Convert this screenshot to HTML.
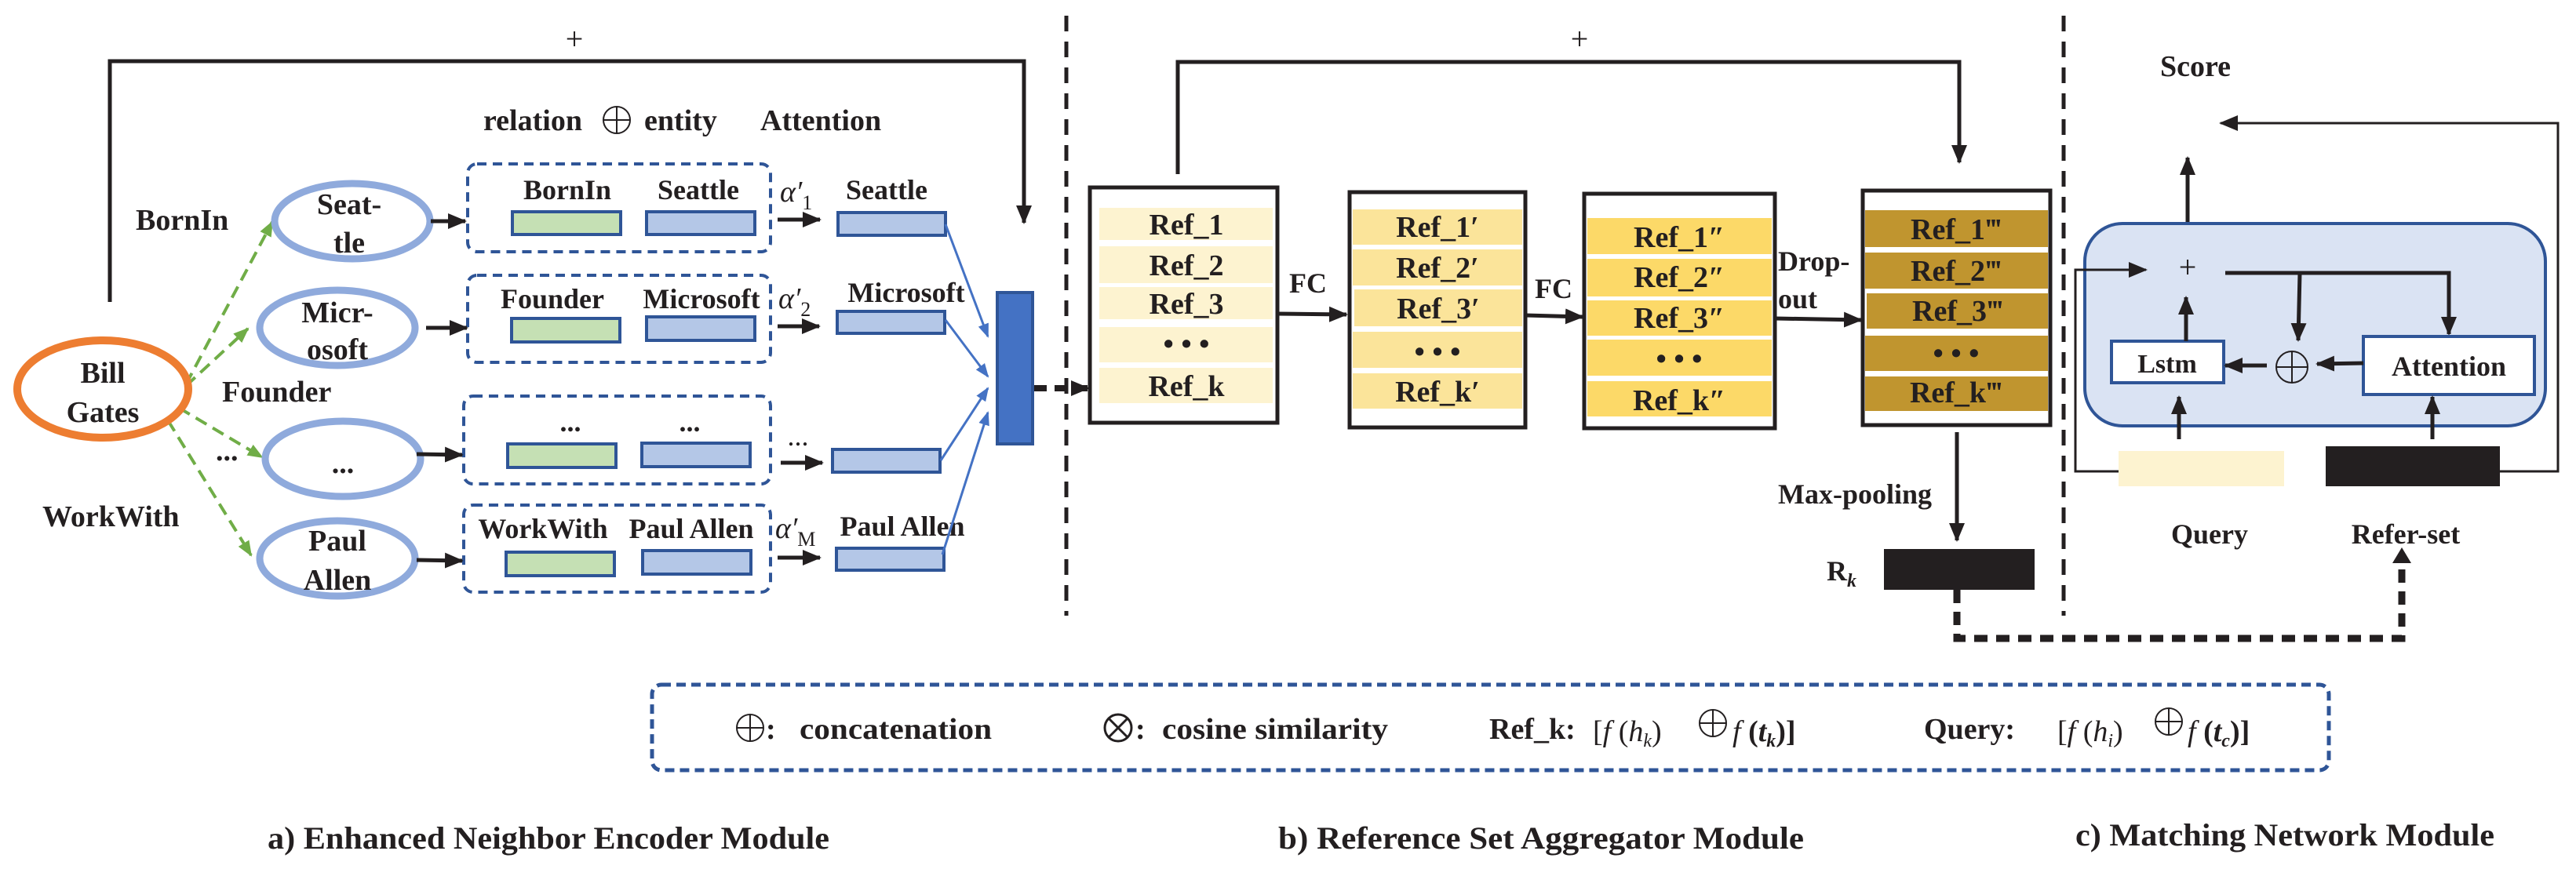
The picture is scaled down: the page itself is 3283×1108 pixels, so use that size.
<!DOCTYPE html>
<html><head><meta charset="utf-8"><style>
html,body{margin:0;padding:0;background:#fff;}
svg{display:block;}
text{font-family:"Liberation Serif",serif;font-weight:bold;fill:#231f20;}
</style></head><body>
<svg width="3283" height="1108" viewBox="0 0 3283 1108" xmlns="http://www.w3.org/2000/svg">
<defs>
<marker id="ab" markerUnits="userSpaceOnUse" markerWidth="24" markerHeight="24" refX="22" refY="12" orient="auto"><path d="M0,2 L24,12 L0,22 z" fill="#231f20"/></marker>
<marker id="ag" markerUnits="userSpaceOnUse" markerWidth="20" markerHeight="20" refX="18" refY="10" orient="auto"><path d="M0,2 L20,10 L0,18 z" fill="#70ad47"/></marker>
<marker id="al" markerUnits="userSpaceOnUse" markerWidth="18" markerHeight="18" refX="16" refY="9" orient="auto"><path d="M0,2 L18,9 L0,16 z" fill="#4472c4"/></marker>
</defs>

<!-- separators -->
<line x1="1359" y1="20" x2="1359" y2="785" stroke="#231f20" stroke-width="5" stroke-dasharray="20 13"/>
<line x1="2630" y1="20" x2="2630" y2="785" stroke="#231f20" stroke-width="5" stroke-dasharray="20 13"/>

<!-- ===== Module a ===== -->
<polyline points="140,385 140,78 1305,78 1305,284" fill="none" stroke="#231f20" stroke-width="5" marker-end="url(#ab)"/>
<text x="732" y="63" font-size="40" text-anchor="middle" style="font-weight:normal">+</text>
<text x="616" y="166" font-size="38">relation</text>
<circle cx="786" cy="153" r="17" fill="none" stroke="#231f20" stroke-width="2"/>
<line x1="769" y1="153" x2="803" y2="153" stroke="#231f20" stroke-width="2"/><line x1="786" y1="136" x2="786" y2="170" stroke="#231f20" stroke-width="2"/>
<text x="821" y="166" font-size="38">entity</text>
<text x="969" y="166" font-size="38">Attention</text>

<!-- green arrows -->
<g stroke="#70ad47" stroke-width="4" stroke-dasharray="16 9" fill="none">
<line x1="237" y1="490" x2="347" y2="283" marker-end="url(#ag)"/>
<line x1="237" y1="492" x2="316" y2="419" marker-end="url(#ag)"/>
<line x1="228" y1="520" x2="334" y2="583" marker-end="url(#ag)"/>
<line x1="214" y1="536" x2="320" y2="708" marker-end="url(#ag)"/>
</g>

<ellipse cx="131" cy="496" rx="109" ry="62" fill="#fff" stroke="#ed7d31" stroke-width="10"/>
<text x="131" y="488" font-size="38" text-anchor="middle">Bill</text>
<text x="131" y="538" font-size="38" text-anchor="middle">Gates</text>

<g fill="#fff" stroke="#8faadc" stroke-width="9">
<ellipse cx="449" cy="282" rx="99" ry="48"/>
<ellipse cx="430" cy="418" rx="99" ry="48"/>
<ellipse cx="437" cy="585" rx="99" ry="48"/>
<ellipse cx="430" cy="712" rx="99" ry="48"/>
</g>
<g font-size="38" text-anchor="middle">
<text x="445" y="273">Seat-</text><text x="445" y="322">tle</text>
<text x="430" y="411">Micr-</text><text x="430" y="458">osoft</text>
<text x="437" y="603">...</text>
<text x="430" y="702">Paul</text><text x="430" y="752">Allen</text>
</g>
<g font-size="38">
<text x="173" y="293">BornIn</text>
<text x="283" y="512">Founder</text>
<text x="275" y="587">...</text>
<text x="54" y="671">WorkWith</text>
</g>

<!-- dashed boxes -->
<g fill="none" stroke="#2f5597" stroke-width="4" stroke-dasharray="12 8">
<rect x="596" y="209" width="386" height="112" rx="12"/>
<rect x="596" y="351" width="386" height="111" rx="12"/>
<rect x="591" y="505" width="391" height="112" rx="12"/>
<rect x="591" y="644" width="391" height="111" rx="12"/>
</g>
<g stroke="#2f5597" stroke-width="4">
<rect x="653" y="270" width="138" height="29" fill="#c5e0b4"/><rect x="824" y="270" width="138" height="29" fill="#b4c7e7"/>
<rect x="652" y="406" width="138" height="30" fill="#c5e0b4"/><rect x="824" y="404" width="138" height="30" fill="#b4c7e7"/>
<rect x="647" y="566" width="138" height="30" fill="#c5e0b4"/><rect x="818" y="565" width="138" height="30" fill="#b4c7e7"/>
<rect x="645" y="704" width="138" height="30" fill="#c5e0b4"/><rect x="819" y="702" width="138" height="30" fill="#b4c7e7"/>
<rect x="1068" y="271" width="137" height="29" fill="#b4c7e7"/>
<rect x="1067" y="397" width="137" height="28" fill="#b4c7e7"/>
<rect x="1061" y="573" width="137" height="29" fill="#b4c7e7"/>
<rect x="1066" y="699" width="137" height="28" fill="#b4c7e7"/>
</g>
<g font-size="36" text-anchor="middle">
<text x="723" y="254">BornIn</text><text x="890" y="254">Seattle</text>
<text x="704" y="393">Founder</text><text x="894" y="393">Microsoft</text>
<text x="727" y="550">...</text><text x="879" y="550">...</text>
<text x="692" y="686">WorkWith</text><text x="881" y="686">Paul Allen</text>
<text x="1130" y="254">Seattle</text>
<text x="1155" y="385">Microsoft</text>
<text x="1150" y="683">Paul Allen</text>
<text x="1017" y="568" style="font-weight:normal">...</text>
</g>
<g font-size="38" font-style="italic">
<text x="994" y="257" style="font-weight:normal">α′<tspan font-size="26" font-style="normal" dy="10">1</tspan></text>
<text x="992" y="393" style="font-weight:normal">α′<tspan font-size="26" font-style="normal" dy="10">2</tspan></text>
<text x="988" y="686" style="font-weight:normal">α′<tspan font-size="26" font-style="normal" dy="10">M</tspan></text>
</g>
<g stroke="#231f20" stroke-width="5">
<line x1="549" y1="282" x2="593" y2="282" marker-end="url(#ab)"/>
<line x1="543" y1="418" x2="595" y2="418" marker-end="url(#ab)"/>
<line x1="531" y1="579" x2="589" y2="580" marker-end="url(#ab)"/>
<line x1="531" y1="714" x2="589" y2="715" marker-end="url(#ab)"/>
<line x1="991" y1="280" x2="1045" y2="280" marker-end="url(#ab)"/>
<line x1="991" y1="416" x2="1044" y2="416" marker-end="url(#ab)"/>
<line x1="995" y1="590" x2="1048" y2="590" marker-end="url(#ab)"/>
<line x1="991" y1="711" x2="1045" y2="711" marker-end="url(#ab)"/>
</g>
<g stroke="#4472c4" stroke-width="3">
<line x1="1205" y1="286" x2="1259" y2="429" marker-end="url(#al)"/>
<line x1="1205" y1="408" x2="1259" y2="480" marker-end="url(#al)"/>
<line x1="1199" y1="587" x2="1259" y2="495" marker-end="url(#al)"/>
<line x1="1201" y1="707" x2="1259" y2="526" marker-end="url(#al)"/>
</g>
<rect x="1271" y="373" width="45" height="193" fill="#4472c4" stroke="#2f5597" stroke-width="4"/>
<line x1="1318" y1="495" x2="1387" y2="495" stroke="#231f20" stroke-width="8" stroke-dasharray="16 10" marker-end="url(#ab)"/>

<!-- ===== Module b ===== -->
<polyline points="1501,222 1501,79 2497,79 2497,207" fill="none" stroke="#231f20" stroke-width="5" marker-end="url(#ab)"/>
<text x="2013" y="63" font-size="40" text-anchor="middle" style="font-weight:normal">+</text>

<g stroke="#231f20" stroke-width="5" fill="#fff">
<rect x="1389" y="239" width="239" height="300"/>
<rect x="1720" y="245" width="224" height="300"/>
<rect x="2019" y="247" width="243" height="299"/>
<rect x="2374" y="243" width="239" height="299"/>
</g>
<g fill="#fdf3d0">
<rect x="1401" y="265" width="221" height="41"/><rect x="1401" y="314" width="221" height="47"/><rect x="1401" y="366" width="221" height="41"/><rect x="1401" y="417" width="221" height="45"/><rect x="1401" y="469" width="221" height="45"/>
</g>
<g fill="#fbe49a">
<rect x="1724" y="267" width="216" height="45"/><rect x="1724" y="318" width="216" height="46"/><rect x="1726" y="369" width="214" height="47"/><rect x="1724" y="423" width="216" height="46"/><rect x="1724" y="476" width="216" height="45"/>
</g>
<g fill="#fcd968">
<rect x="2023" y="278" width="235" height="46"/><rect x="2023" y="330" width="235" height="48"/><rect x="2023" y="383" width="235" height="45"/><rect x="2023" y="433" width="235" height="46"/><rect x="2023" y="486" width="235" height="45"/>
</g>
<g fill="#c0952f">
<rect x="2377" y="268" width="233" height="47"/><rect x="2377" y="322" width="233" height="46"/><rect x="2379" y="374" width="231" height="45"/><rect x="2377" y="428" width="233" height="45"/><rect x="2377" y="480" width="233" height="44"/>
</g>
<g font-size="38" text-anchor="middle">
<text x="1512" y="299">Ref_1</text><text x="1512" y="351">Ref_2</text><text x="1512" y="400">Ref_3</text><text x="1512" y="451">• • •</text><text x="1512" y="505">Ref_k</text>
<text x="1832" y="302">Ref_1′</text><text x="1832" y="354">Ref_2′</text><text x="1833" y="406">Ref_3′</text><text x="1832" y="461">• • •</text><text x="1832" y="512">Ref_k′</text>
<text x="2140" y="315">Ref_1″</text><text x="2140" y="366">Ref_2″</text><text x="2140" y="418">Ref_3″</text><text x="2140" y="470">• • •</text><text x="2140" y="523">Ref_k″</text>
<text x="2493" y="305">Ref_1‴</text><text x="2493" y="358">Ref_2‴</text><text x="2495" y="409">Ref_3‴</text><text x="2493" y="463">• • •</text><text x="2493" y="513">Ref_k‴</text>
</g>
<g font-size="36">
<text x="1643" y="373">FC</text>
<text x="1956" y="380">FC</text>
<text x="2266" y="345">Drop-</text>
<text x="2266" y="393">out</text>
<text x="2266" y="642">Max-pooling</text>
<text x="2328" y="740">R<tspan font-size="24" font-style="italic" dy="8">k</tspan></text>
</g>
<g stroke="#231f20" stroke-width="5">
<line x1="1628" y1="400" x2="1716" y2="401" marker-end="url(#ab)"/>
<line x1="1944" y1="402" x2="2017" y2="404" marker-end="url(#ab)"/>
<line x1="2262" y1="406" x2="2372" y2="408" marker-end="url(#ab)"/>
<line x1="2494" y1="551" x2="2494" y2="689" marker-end="url(#ab)"/>
</g>
<rect x="2401" y="700" width="192" height="52" fill="#231f20"/>
<polyline points="2494,752 2494,814 3061,814 3061,716" fill="none" stroke="#231f20" stroke-width="9" stroke-dasharray="17 11"/>
<path d="M3049,718 L3061,698 L3073,718 z" fill="#231f20"/>

<!-- ===== Module c ===== -->
<text x="2753" y="97" font-size="38">Score</text>
<polyline points="3186,601 3260,601 3260,157 2830,157" fill="none" stroke="#231f20" stroke-width="3" marker-end="url(#ab)"/>
<line x1="2788" y1="306" x2="2788" y2="201" stroke="#231f20" stroke-width="5" marker-end="url(#ab)"/>
<rect x="2657" y="285" width="587" height="258" rx="48" fill="#dae3f3" stroke="#2f5597" stroke-width="4"/>
<text x="2788" y="354" font-size="40" text-anchor="middle" style="font-weight:normal">+</text>
<polyline points="2700,601 2645,601 2645,344 2735,344" fill="none" stroke="#231f20" stroke-width="3" marker-end="url(#ab)"/>
<polyline points="2836,348 3121,348 3121,426" fill="none" stroke="#231f20" stroke-width="5" marker-end="url(#ab)"/>
<line x1="2931" y1="348" x2="2929" y2="434" stroke="#231f20" stroke-width="5" marker-end="url(#ab)"/>
<rect x="2691" y="435" width="143" height="53" fill="#fff" stroke="#2f5597" stroke-width="4"/>
<rect x="3012" y="429" width="218" height="74" fill="#fff" stroke="#2f5597" stroke-width="4"/>
<text x="2762" y="475" font-size="34" text-anchor="middle">Lstm</text>
<text x="3121" y="479" font-size="36" text-anchor="middle">Attention</text>
<circle cx="2921" cy="468" r="20" fill="none" stroke="#231f20" stroke-width="2"/>
<line x1="2901" y1="468" x2="2941" y2="468" stroke="#231f20" stroke-width="2"/><line x1="2921" y1="448" x2="2921" y2="488" stroke="#231f20" stroke-width="2"/>
<g stroke="#231f20" stroke-width="5">
<line x1="3012" y1="463" x2="2953" y2="464" marker-end="url(#ab)"/>
<line x1="2889" y1="466" x2="2836" y2="466" marker-end="url(#ab)"/>
<line x1="2786" y1="435" x2="2786" y2="379" marker-end="url(#ab)"/>
<line x1="2777" y1="560" x2="2777" y2="506" marker-end="url(#ab)"/>
<line x1="3100" y1="560" x2="3100" y2="506" marker-end="url(#ab)"/>
</g>
<rect x="2700" y="575" width="211" height="45" fill="#fdf3d0"/>
<rect x="2964" y="569" width="222" height="51" fill="#231f20"/>
<text x="2816" y="693" font-size="36" text-anchor="middle">Query</text>
<text x="3066" y="693" font-size="36" text-anchor="middle">Refer-set</text>

<!-- legend -->
<rect x="831" y="873" width="2137" height="109" rx="12" fill="none" stroke="#2f5597" stroke-width="5" stroke-dasharray="12 7"/>
<g font-size="38">
<circle cx="956" cy="928" r="17" fill="none" stroke="#231f20" stroke-width="2"/>
<line x1="939" y1="928" x2="973" y2="928" stroke="#231f20" stroke-width="2"/><line x1="956" y1="911" x2="956" y2="945" stroke="#231f20" stroke-width="2"/>
<text x="976" y="942">:</text>
<text x="1019" y="942" textLength="245" lengthAdjust="spacingAndGlyphs">concatenation</text>
<circle cx="1425" cy="928" r="17" fill="none" stroke="#231f20" stroke-width="3"/>
<line x1="1413" y1="916" x2="1437" y2="940" stroke="#231f20" stroke-width="3"/><line x1="1437" y1="916" x2="1413" y2="940" stroke="#231f20" stroke-width="3"/>
<text x="1447" y="942">:</text>
<text x="1481" y="942" textLength="288" lengthAdjust="spacingAndGlyphs">cosine similarity</text>
<text x="1898" y="942">Ref_k:</text>
<text x="2030" y="945" style="font-weight:normal">[<tspan font-style="italic">f</tspan> (<tspan font-style="italic">h<tspan font-size="24" dy="7">k</tspan></tspan><tspan dy="-7">)</tspan></text>
<circle cx="2183" cy="922" r="17" fill="none" stroke="#231f20" stroke-width="2"/>
<line x1="2166" y1="922" x2="2200" y2="922" stroke="#231f20" stroke-width="2"/><line x1="2183" y1="905" x2="2183" y2="939" stroke="#231f20" stroke-width="2"/>
<text x="2208" y="945"><tspan font-style="italic" style="font-weight:normal">f</tspan> (<tspan font-style="italic">t<tspan font-size="24" dy="7">k</tspan></tspan><tspan dy="-7">)]</tspan></text>
<text x="2452" y="942">Query:</text>
<text x="2622" y="945" style="font-weight:normal">[<tspan font-style="italic">f</tspan> (<tspan font-style="italic">h<tspan font-size="24" dy="7">i</tspan></tspan><tspan dy="-7">)</tspan></text>
<circle cx="2764" cy="920" r="17" fill="none" stroke="#231f20" stroke-width="2"/>
<line x1="2747" y1="920" x2="2781" y2="920" stroke="#231f20" stroke-width="2"/><line x1="2764" y1="903" x2="2764" y2="937" stroke="#231f20" stroke-width="2"/>
<text x="2788" y="945"><tspan font-style="italic" style="font-weight:normal">f</tspan> (<tspan font-style="italic">t<tspan font-size="24" dy="7">c</tspan></tspan><tspan dy="-7">)]</tspan></text>
</g>

<!-- captions -->
<g font-size="40">
<text x="341" y="1082" textLength="716" lengthAdjust="spacingAndGlyphs">a) Enhanced Neighbor  Encoder Module</text>
<text x="1629" y="1082" textLength="670" lengthAdjust="spacingAndGlyphs">b) Reference  Set  Aggregator Module</text>
<text x="2645" y="1078" textLength="534" lengthAdjust="spacingAndGlyphs">c) Matching  Network Module</text>
</g>
</svg>
</body></html>
